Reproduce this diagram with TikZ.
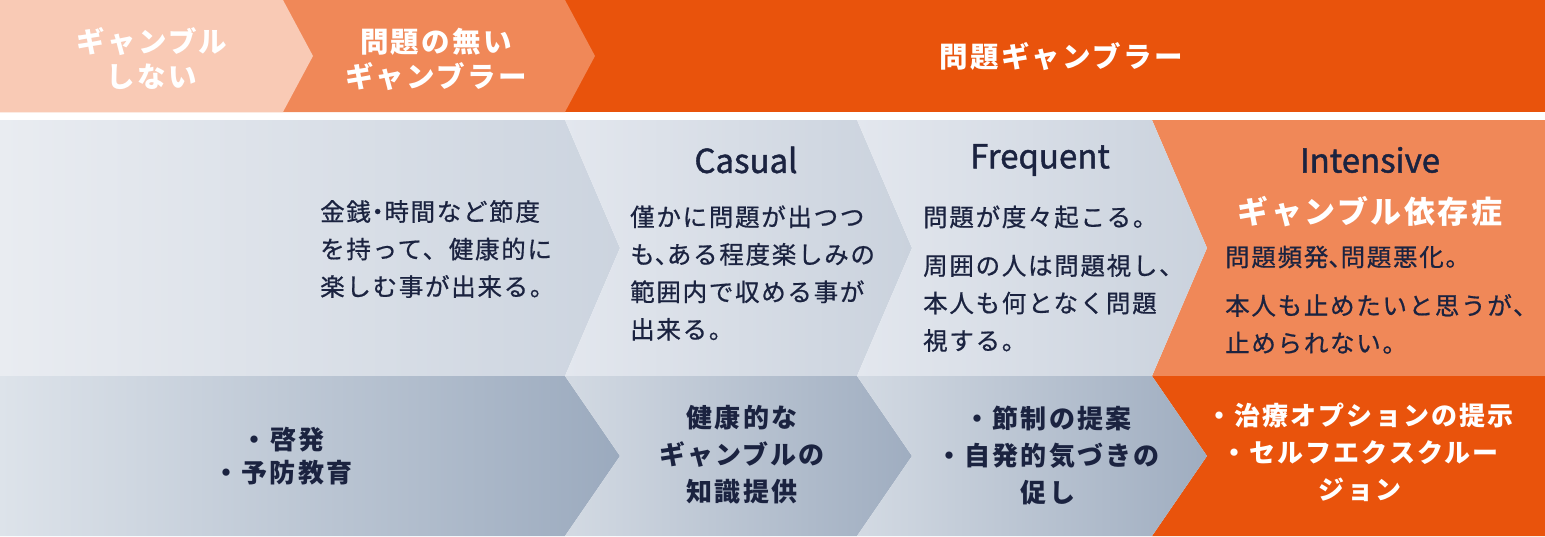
\documentclass[tikz,border=0pt]{standalone}
\usepackage{fontspec}
\setmainfont{Noto Sans CJK JP}
\newfontfamily\jpr[LetterSpace=7,FakeBold=0.7]{Noto Sans CJK JP}
\newfontfamily\jpb[LetterSpace=8]{Noto Sans CJK JP}
\newfontfamily\jplat[FakeBold=1.3]{Noto Sans CJK JP}
\newcommand\hpc{\makebox[0.5em][l]{、}}
\newcommand\hpd{\makebox[0.55em][c]{・}}
\definecolor{peach}{HTML}{F9CAB5}
\definecolor{ormid}{HTML}{F08858}
\definecolor{ordark}{HTML}{E9530C}
\definecolor{navy}{HTML}{1B2340}
\definecolor{gAl}{HTML}{E9ECF1}
\definecolor{gAr}{HTML}{CCD4DF}
\definecolor{gBl}{HTML}{E3E7EE}
\definecolor{gBr}{HTML}{CAD2DD}
\definecolor{gCl}{HTML}{DDE3EA}
\definecolor{gCr}{HTML}{9BAABE}
\definecolor{gDl}{HTML}{D3DAE3}
\definecolor{gDr}{HTML}{9FADC0}
\tikzset{
  wb/.style={inner sep=0pt, text=white, align=center, font=\jpb\bfseries\fontsize{28.5}{35}\selectfont},
  body/.style={inner sep=0pt, text=navy, align=left, font=\jpr\fontsize{24.5}{37.5}\selectfont},
  ttl/.style={inner sep=0pt, text=navy, font=\jplat\fontsize{33}{38}\selectfont},
  nb/.style={inner sep=0pt, text=navy, align=center, font=\jpb\bfseries\fontsize{26}{37}\selectfont},
  wn/.style={inner sep=0pt, text=white, align=center, font=\jpb\bfseries\fontsize{26}{37}\selectfont},
}
\begin{document}
\begin{tikzpicture}[x=1pt,y=-1pt]
\useasboundingbox (0,0) rectangle (1545,536);
\fill[white] (0,0) rectangle (1545,536);
% row 1
\fill[ordark] (0,0) rectangle (1545,112);
\fill[ormid] (0,0) -- (565,0) -- (595,56) -- (565,112) -- (0,112) -- cycle;
\fill[peach] (0,0) -- (283,0) -- (313,56) -- (283,112) -- (0,112) -- cycle;
% row 2
\fill[ormid] (1152,120) -- (1545,120) -- (1545,376) -- (1152,376) -- (1207,248) -- cycle;
\shade[left color=gAl, right color=gAr] (0,120) -- (565,120) -- (620,248) -- (565,376) -- (0,376) -- cycle;
\shade[left color=gBl, right color=gBr] (565,120) -- (857,120) -- (912,248) -- (857,376) -- (565,376) -- (620,248) -- cycle;
\shade[left color=gBl, right color=gBr] (857,120) -- (1152,120) -- (1207,248) -- (1152,376) -- (857,376) -- (912,248) -- cycle;
% row 3
\fill[ordark] (1152,376) -- (1545,376) -- (1545,536) -- (1152,536) -- (1207,456) -- cycle;
\shade[left color=gCl, right color=gCr] (0,376) -- (565,376) -- (620,456) -- (565,536) -- (0,536) -- cycle;
\shade[left color=gDl, right color=gDr] (565,376) -- (857,376) -- (912,456) -- (857,536) -- (565,536) -- (620,456) -- cycle;
\shade[left color=gDl, right color=gDr] (857,376) -- (1152,376) -- (1207,456) -- (1152,536) -- (857,536) -- (912,456) -- cycle;
% row 1 texts
\node[wb] (tA) at (152,59) {ギャンブル\\しない};
\node[wb] (tB) at (436,59) {問題の無い\\ギャンブラー};
\node[wb] (tC) at (1061,57) {問題ギャンブラー};
% row 2 texts
\node[body, anchor=west] (d1) at (320,249) {金銭\hpd 時間など節度\\を持って、健康的に\\楽しむ事が出来る。};
\node[ttl] (h2) at (746,160) {Casual};
\node[body, anchor=west] (d2) at (630,273) {僅かに問題が出つつ\\も\hpc ある程度楽しみの\\範囲内で収める事が\\出来る。};
\node[ttl] (h3) at (1040,160) {Frequent};
\node[body, anchor=west] (d3a) at (923,217) {問題が度々起こる。};
\node[body, anchor=west] (d3b) at (923,303) {周囲の人は問題視し、\\本人も何となく問題\\視する。};
\node[ttl] (h4) at (1370,160) {Intensive};
\node[wb, font=\jpb\bfseries\fontsize{31}{36}\selectfont] (h4j) at (1370,212) {ギャンブル依存症};
\node[body, anchor=west] (d4a) at (1225,257) {問題頻発\hpc 問題悪化。};
\node[body, anchor=west] (d4b) at (1225,324) {本人も止めたいと思うが、\\止められない。};
% row 3 texts
\node[nb, font=\jpb\bfseries\fontsize{26}{33}\selectfont] (s1) at (283,456) {・啓発\\・予防教育};
\node[nb] (s2) at (742,455) {健康的な\\ギャンブルの\\知識提供};
\node[nb] (s3) at (1048,455) {・節制の提案\\・自発的気づきの\\促し};
\node[wn] (s4) at (1360,452) {・治療オプションの提示\\・セルフエクスクルー\\ジョン};
\end{tikzpicture}
\end{document}
